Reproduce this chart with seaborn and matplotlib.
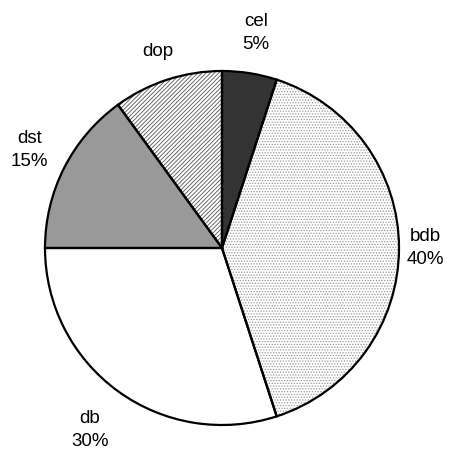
import numpy as np
import matplotlib
matplotlib.use("Agg")
import matplotlib.pyplot as plt
import seaborn as sns

labels = ["cel", "bdb", "db", "dst", "dop"]
values = [5, 40, 30, 15, 10]
pct_labels = ["5%", "40%", "30%", "15%", ""]
fills = ["#333333", "white", "white", "#999999", "white"]
hatches = [None, "......", None, None, "////////"]
hatch_colors = ["#333333", "#999999", "white", "#999999", "#555555"]
label_dist = [1.23, 1.15, 1.27, 1.22, 1.17]

sns.set_theme(style="white")
plt.rcParams["font.family"] = ["Liberation Sans", "DejaVu Sans"]
plt.rcParams["hatch.linewidth"] = 0.6

fig = plt.figure(figsize=(4.54, 4.5), dpi=100)
ax = fig.add_axes([0, 0, 1, 1])
ax.axis("off")

# filled / hatched layer
wedges, _ = ax.pie(values, startangle=90, counterclock=False, radius=1.0,
                   colors=fills, wedgeprops=dict(linewidth=0))
for w, h, hc in zip(wedges, hatches, hatch_colors):
    w.set_edgecolor(hc)
    if h:
        w.set_hatch(h)
# outline layer
ax.pie(values, startangle=90, counterclock=False, radius=1.0,
       colors=["none"] * len(values),
       wedgeprops=dict(linewidth=1.6, edgecolor="black", fill=False))

total = float(sum(values))
start = 90.0
for lab, pct, v, d in zip(labels, pct_labels, values, label_dist):
    span = 360.0 * v / total
    mid = np.deg2rad(start - span / 2)
    start -= span
    txt = lab + ("\n" + pct if pct else "")
    ax.text(d * np.cos(mid), d * np.sin(mid), txt, ha="center", va="center",
            fontsize=13.5, linespacing=1.45, color="black")

ax.set_xlim(-222 / 177, (454 - 222) / 177)
ax.set_ylim(-202 / 177, 248 / 177)
ax.set_aspect("auto")

fig.savefig("out.png", dpi=100, facecolor="white")
